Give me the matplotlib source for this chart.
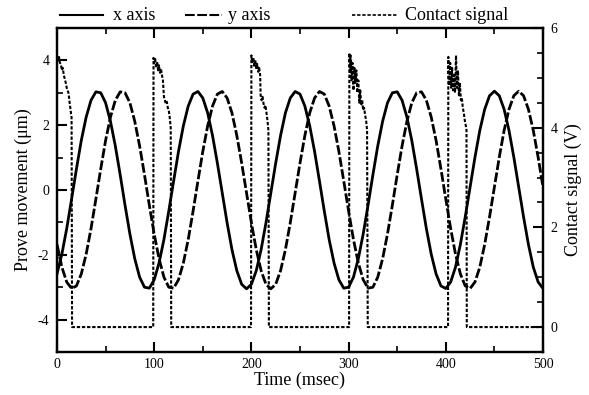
import matplotlib
matplotlib.use("Agg")
import matplotlib.pyplot as plt
from matplotlib.lines import Line2D
from matplotlib.ticker import MultipleLocator

plt.rcParams['font.family'] = ['Liberation Serif', 'DejaVu Serif']
plt.rcParams['axes.unicode_minus'] = False
plt.rcParams['lines.scale_dashes'] = False

# ---- data ----
time_ms = [5 * k for k in range(101)]

x_axis = [-2.59, -1.98, -1.19, -0.28, 0.65, 1.53, 2.25, 2.77, 3.03, 3.00,
          2.69, 2.12, 1.36, 0.47, -0.47, -1.36, -2.12, -2.69, -3.00, -3.03,
          -2.77, -2.25, -1.53, -0.65, 0.28, 1.19, 1.98, 2.59, 2.96, 3.04,
          2.84, 2.38, 1.68, 0.83, -0.09, -1.01, -1.84, -2.49, -2.91, -3.05,
          -2.91, -2.49, -1.84, -1.01, -0.09, 0.83, 1.68, 2.38, 2.84, 3.04,
          2.96, 2.59, 1.98, 1.19, 0.28, -0.65, -1.53, -2.25, -2.77, -3.03,
          -3.00, -2.69, -2.12, -1.36, -0.47, 0.47, 1.36, 2.12, 2.69, 3.00,
          3.03, 2.77, 2.25, 1.53, 0.65, -0.28, -1.19, -1.98, -2.59, -2.96,
          -3.04, -2.84, -2.38, -1.68, -0.83, 0.09, 1.01, 1.84, 2.49, 2.91,
          3.05, 2.91, 2.49, 1.84, 1.01, 0.09, -0.83, -1.68, -2.38, -2.84,
          -3.04]

y_axis = [-1.68, -2.38, -2.84, -3.04, -2.96,
          -2.59, -1.98, -1.19, -0.28, 0.65, 1.53, 2.25, 2.77, 3.03, 3.00,
          2.69, 2.12, 1.36, 0.47, -0.47, -1.36, -2.12, -2.69, -3.00, -3.03,
          -2.77, -2.25, -1.53, -0.65, 0.28, 1.19, 1.98, 2.59, 2.96, 3.04,
          2.84, 2.38, 1.68, 0.83, -0.09, -1.01, -1.84, -2.49, -2.91, -3.05,
          -2.91, -2.49, -1.84, -1.01, -0.09, 0.83, 1.68, 2.38, 2.84, 3.04,
          2.96, 2.59, 1.98, 1.19, 0.28, -0.65, -1.53, -2.25, -2.77, -3.03,
          -3.00, -2.69, -2.12, -1.36, -0.47, 0.47, 1.36, 2.12, 2.69, 3.00,
          3.03, 2.77, 2.25, 1.53, 0.65, -0.28, -1.19, -1.98, -2.59, -2.96,
          -3.04, -2.84, -2.38, -1.68, -0.83, 0.09, 1.01, 1.84, 2.49, 2.91,
          3.05, 2.91, 2.49, 1.84, 1.01, 0.09]

contact_t = [0, 1, 2, 3, 4, 5, 6, 7, 8, 9, 10, 11, 12, 13, 14, 15, 15.5,
             99.0, 99.3, 100, 101, 102, 103, 104, 105, 106, 107, 108, 109, 110,
             111, 112, 113, 114, 115, 116, 117, 117.5,
             199.6, 200, 201, 202, 203, 204, 205, 206, 207, 208, 209, 209.5,
             210.5, 211.5, 212.5, 213.5, 214.5, 215.5, 216.5, 217.5, 218,
             300.5, 300.8, 301.5, 302, 303, 304, 305, 306, 307, 308, 309, 310,
             311, 312, 313, 314, 315, 316, 317, 318, 319, 319.7,
             402.3, 402.6, 403.5, 404.5, 405.5, 406.5, 407.5, 408.5, 409.5,
             410.5, 411.5, 412.5, 413.5, 414.5, 415.5, 416.5, 417.5, 418.5,
             419.5, 420.5, 421.3, 421.6, 500]
contact_v = [5.40, 5.35, 5.42, 5.30, 5.28, 5.15, 5.20, 5.05, 4.98, 4.90, 4.80,
             4.75, 4.68, 4.50, 4.35, 4.20, 0.0,
             0.0, 5.40, 5.30, 5.38, 5.20, 5.32, 5.15, 5.25, 5.10, 5.18, 5.05,
             4.95, 4.62, 4.55, 4.48, 4.52, 4.40, 4.35, 4.20, 4.00, 0.0,
             0.0, 5.45, 5.30, 5.40, 5.22, 5.35, 5.18, 5.28, 5.12, 5.20, 5.05,
             4.65, 4.55, 4.62, 4.48, 4.40, 4.45, 4.30, 4.15, 3.95, 0.0,
             0.0, 5.50, 5.10, 5.45, 4.95, 5.30, 4.75, 5.20, 4.90, 5.15, 4.70,
             4.95, 4.50, 4.75, 4.45, 4.55, 4.35, 4.40, 4.25, 4.15, 3.95, 0.0,
             0.0, 5.42, 4.85, 5.30, 4.80, 5.20, 4.75, 5.05, 4.70, 5.45, 4.80,
             5.15, 4.65, 4.90, 4.55, 4.60, 4.40, 4.30, 4.15, 4.05, 3.95, 0.0,
             0.0]

labels = ["x axis", "y axis", "Contact signal"]

# ---- figure ----
W, H = 589, 395
fig = plt.figure(figsize=(W / 100, H / 100), dpi=100)
ax = fig.add_axes([57 / W, 1 - 352 / H, (543 - 57) / W, (352 - 28) / H])
ax2 = ax.twinx()

solid_style = '-'
dash_style = (0, (7, 1.8))
contact_style = (0, (2.4, 1.3))

ax.plot(time_ms, x_axis, color='black', lw=2.0, linestyle=solid_style)
ax.plot(time_ms, y_axis, color='black', lw=2.0, linestyle=dash_style)
ax2.plot(contact_t, contact_v, color='black', lw=1.5, linestyle=contact_style)

ax.set_xlim(0, 500)
ax.set_ylim(-5, 5)
ax2.set_ylim(-0.5, 6)

ax.xaxis.set_major_locator(MultipleLocator(100))
ax.xaxis.set_minor_locator(MultipleLocator(50))
ax.yaxis.set_major_locator(MultipleLocator(2))
ax.yaxis.set_minor_locator(MultipleLocator(1))
ax2.yaxis.set_major_locator(MultipleLocator(2))
ax2.yaxis.set_minor_locator(MultipleLocator(0.5))

for a in (ax, ax2):
    for s in a.spines.values():
        s.set_linewidth(1.6)

ax.tick_params(which='both', direction='in', top=True, right=False,
               labelsize=10, width=1.5)
ax.tick_params(axis='x', pad=4)
ax.tick_params(axis='y', pad=5.5)
ax.tick_params(which='major', length=7)
ax.tick_params(which='minor', length=4, width=1.2)
ax2.tick_params(which='both', direction='in', right=True, left=False,
                labelsize=10, width=1.5, pad=5.5)
ax2.tick_params(which='major', length=7)
ax2.tick_params(which='minor', length=4, width=1.2)

ax.set_xlabel("Time (msec)", fontsize=13, labelpad=1)
ax.set_ylabel("Prove movement (μm)", fontsize=13, labelpad=4)
ax2.set_ylabel("Contact signal (V)", fontsize=13, labelpad=5)

# ---- legend across the top ----
leg_y = 1 - 15 / H
entries = [(60, 103, 113, solid_style, 1.5),
           (185, 222, 228, dash_style, 1.5),
           (352, 397, 405, contact_style, 1.2)]
for (x0, x1, xt, ls, lw), lab in zip(entries, labels):
    fig.add_artist(Line2D([x0 / W, x1 / W], [leg_y, leg_y], color='black',
                          lw=lw, linestyle=ls, transform=fig.transFigure))
    fig.text(xt / W, leg_y, lab, fontsize=13, va='center', ha='left')

fig.savefig("out.png", dpi=100)
